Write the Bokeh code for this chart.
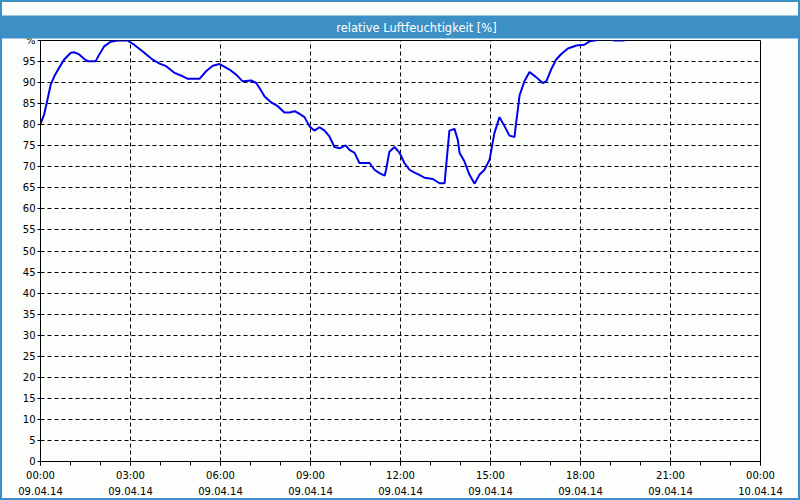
from bokeh.plotting import figure
from bokeh.models import FixedTicker, Range1d, Title, LinearAxis
from bokeh.embed import file_html
from bokeh.resources import INLINE

title_text = "relative Luftfeuchtigkeit [%]"

# time in hours since 09.04.14 00:00
hours = [0.00, 0.12, 0.21, 0.34, 0.46, 0.62, 0.79, 1.01, 1.12, 1.29, 1.46, 1.57, 1.84, 1.96,
         2.12, 2.34, 2.57, 2.90, 3.12, 3.46, 3.73, 3.97, 4.19, 4.47, 4.74, 4.91, 5.30, 5.52,
         5.74, 5.97, 6.30, 6.52, 6.74, 7.02, 7.19, 7.30, 7.47, 7.69, 7.91, 8.13, 8.30, 8.47,
         8.63, 8.80, 8.97, 9.13, 9.30, 9.47, 9.63, 9.80, 9.97, 10.17, 10.30, 10.47, 10.63,
         10.97, 11.13, 11.30, 11.47, 11.52, 11.63, 11.80, 11.97, 12.13, 12.30, 12.47, 12.63,
         12.80, 13.08, 13.30, 13.47, 13.52, 13.63, 13.80, 13.91, 13.97, 14.13, 14.30, 14.47,
         14.63, 14.80, 14.97, 15.13, 15.30, 15.47, 15.63, 15.80, 15.86, 15.91, 15.97, 16.13,
         16.30, 16.52, 16.74, 16.86, 17.02, 17.19, 17.36, 17.58, 17.86, 18.13, 18.30, 18.47,
         18.80, 19.00, 19.13, 19.47]
humidity = [80.2, 82.4, 85.2, 89.5, 91.5, 93.5, 95.5, 97.1, 97.2, 96.7, 95.6, 95.1, 95.1, 96.7,
            98.6, 99.7, 100.0, 100.0, 99.0, 97.1, 95.5, 94.5, 93.9, 92.3, 91.5, 90.9, 90.9, 92.7,
            94.0, 94.4, 93.1, 91.9, 90.3, 90.5, 89.9, 88.7, 86.7, 85.3, 84.4, 82.9, 82.9, 83.2,
            82.6, 81.8, 79.6, 78.6, 79.4, 78.6, 77.2, 74.7, 74.4, 75.1, 74.0, 73.3, 70.9,
            70.9, 69.3, 68.5, 67.9, 69.3, 73.6, 74.7, 73.3, 70.9, 69.3, 68.6, 68.1,
            67.4, 67.1, 66.1, 66.1, 70.1, 78.6, 79.0, 76.4, 73.3, 71.3, 68.1, 66.0,
            68.1, 69.3, 71.7, 78.0, 81.8, 79.6, 77.4, 77.1, 80.8, 83.5, 87.0, 90.3,
            92.5, 91.3, 89.9, 90.3, 93.1, 95.5, 96.8, 98.1, 98.8, 99.0, 99.8, 100.0,
            100.4, 100.4, 100.0, 100.0]

x_ticks = [0, 3, 6, 9, 12, 15, 18, 21, 24]
x_minor = list(range(0, 25))
x_tick_labels = ["00:00\n09.04.14", "03:00\n09.04.14", "06:00\n09.04.14", "09:00\n09.04.14",
                 "12:00\n09.04.14", "15:00\n09.04.14", "18:00\n09.04.14", "21:00\n09.04.14",
                 "00:00\n10.04.14"]
y_ticks = list(range(0, 101, 5))
y_tick_labels = [str(v) for v in range(0, 100, 5)] + ["%"]

BG = "#fcfefc"
BLUE = "#3d90c6"
FONT = "DejaVu Sans"

p = figure(width=800, height=500, title=None,
           x_range=Range1d(0, 24), y_range=Range1d(0, 100),
           output_backend="svg", toolbar_location=None,
           min_border_left=40, min_border_right=40, min_border_top=40, min_border_bottom=39,
           background_fill_color=BG, border_fill_color=None,
           outline_line_color="black", outline_line_width=1)

p.styles = {"box-shadow": "inset 0 0 0 2px " + BLUE, "background-color": BG}

bottom_axis = p.below[0]
left_axis = p.left[0]
xgrid = p.xgrid[0]
ygrid = p.ygrid[0]

# empty top axis used only as a spacer between the title bar and the plot frame
spacer = LinearAxis(ticker=FixedTicker(ticks=[], minor_ticks=[]),
                    major_tick_out=17, minor_tick_out=0, major_tick_in=0, minor_tick_in=0,
                    major_label_standoff=0, axis_line_color=None,
                    major_tick_line_color=None, minor_tick_line_color=None)
p.add_layout(spacer, "above")

# padding order: (left, right, top, bottom); uneven sides move the text a little right
p.title = Title(text=title_text, align="center", vertical_align="top", standoff=0,
                text_color="white", text_font=FONT, text_font_size="11.5px",
                text_font_style="normal", background_fill_color=BLUE,
                border_line_color=None, padding=(432, 400, 5, 4))

p.line(hours, humidity, line_color="#0000f0", line_width=2)

bottom_axis.ticker = FixedTicker(ticks=x_ticks, minor_ticks=x_minor)
bottom_axis.major_label_overrides = {float(t): s for t, s in zip(x_ticks, x_tick_labels)}
left_axis.ticker = FixedTicker(ticks=y_ticks, minor_ticks=[])
left_axis.major_label_overrides = {float(t): s for t, s in zip(y_ticks, y_tick_labels)}
xgrid.ticker = FixedTicker(ticks=x_ticks, minor_ticks=[])
ygrid.ticker = FixedTicker(ticks=y_ticks, minor_ticks=[])

for ax in (bottom_axis, left_axis):
    ax.axis_line_color = "black"
    ax.major_tick_line_color = "black"
    ax.minor_tick_line_color = "black"
    ax.major_label_text_font = FONT
    ax.major_label_text_font_size = "10px"
    ax.major_label_text_color = "black"
    ax.major_tick_in = 0
    ax.minor_tick_in = 0

bottom_axis.major_tick_out = 4
bottom_axis.minor_tick_out = 4
bottom_axis.major_label_standoff = 4
bottom_axis.major_label_text_line_height = 1.5
left_axis.major_tick_out = 3
left_axis.major_label_standoff = 2

for g in (xgrid, ygrid):
    g.grid_line_color = "black"
    g.grid_line_dash = "4 3"
    g.grid_line_width = 1

open("out.html", "w").write(file_html(p, INLINE))
